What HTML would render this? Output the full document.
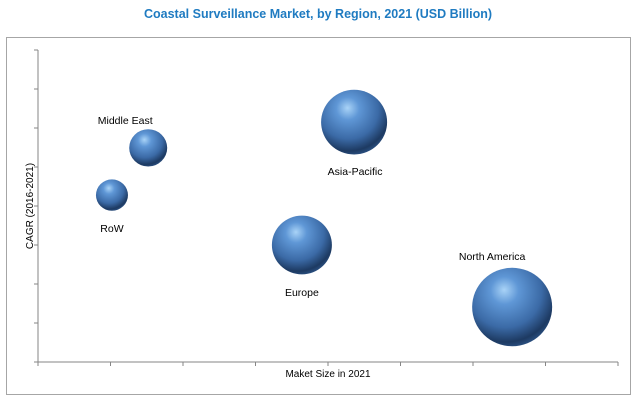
<!DOCTYPE html>
<html><head><meta charset="utf-8">
<style>
body{margin:0;background:#fff;width:637px;height:400px;overflow:hidden;font-family:"Liberation Sans",sans-serif;}
svg{display:block}
</style></head>
<body>
<svg id="chart" width="637" height="400" xmlns="http://www.w3.org/2000/svg">
<defs>
<radialGradient id="ball" cx="42%" cy="32%" r="70%" fx="40%" fy="28%">
<stop offset="0" stop-color="#a9d3f7"/>
<stop offset="0.25" stop-color="#5f97d6"/>
<stop offset="0.65" stop-color="#3b6aa6"/>
<stop offset="0.9" stop-color="#1d3a62"/>
<stop offset="1" stop-color="#2a4f80"/>
</radialGradient>
</defs>
<text x="318" y="18" text-anchor="middle" font-size="12.5" font-weight="bold" fill="#1f7bc1">Coastal Surveillance Market, by Region, 2021 (USD Billion)</text>
<rect x="6.5" y="37.5" width="624" height="357" fill="none" stroke="#a6a6a6" stroke-width="1"/>
<g id="axes"></g>
<g id="bubbles"></g>
<text x="328" y="377" text-anchor="middle" font-size="10" fill="#000">Maket Size in 2021</text>
<text transform="translate(33,206) rotate(-90)" text-anchor="middle" font-size="10" fill="#000">CAGR (2016-2021)</text>
</svg>
<script>
const regions = ["Middle East","RoW","Asia-Pacific","Europe","North America"];
const marketSize = [1.52,1.02,4.36,3.64,6.54];
const cagr = [5.49,4.28,6.15,3.0,1.41];
const bubbleRadius = [19,16,33,30,40];
const labelDx = [-23,0,1,0,-20];
const labelDy = [-28,33,49,47,-51];
const xTicks = [0,1,2,3,4,5,6,7,8];
const yTicks = [0,1,2,3,4,5,6,7,8];

const X0=38,X1=618,Y0=362,Y1=50;
const xs=v=>X0+(v/8)*(X1-X0);
const ys=v=>Y0-(v/8)*(Y0-Y1);
const NS="http://www.w3.org/2000/svg";
const ax=document.getElementById('axes');
function mk(tag,attrs,parent){const e=document.createElementNS(NS,tag);for(const k in attrs)e.setAttribute(k,attrs[k]);parent.appendChild(e);return e;}
let l=mk('line',{x1:X0,y1:Y1,x2:X0,y2:Y0,stroke:'#868686'},ax);


l=mk('line',{x1:X0,y1:Y0,x2:X1,y2:Y0,stroke:'#868686'},ax);


xTicks.forEach(t=>{const e=mk('line',{x1:xs(t),y1:Y0,x2:xs(t),y2:Y0+4,stroke:'#868686'},ax);

});
yTicks.forEach(t=>{const e=mk('line',{x1:X0-4,y1:ys(t),x2:X0,y2:ys(t),stroke:'#868686'},ax);

});
const bg=document.getElementById('bubbles');
regions.forEach((r,i)=>{
 const cx=xs(marketSize[i]),cy=ys(cagr[i]);
 const c=mk('ellipse',{cx:cx,cy:cy,rx:bubbleRadius[i],ry:bubbleRadius[i]*0.98,fill:'url(#ball)'},bg);
 
 
 const t=mk('text',{x:cx+labelDx[i],y:cy+labelDy[i]+4,'text-anchor':'middle','font-size':'10.5',fill:'#000'},bg);
 t.textContent=r;
 
 
});
</script>
</body></html>
